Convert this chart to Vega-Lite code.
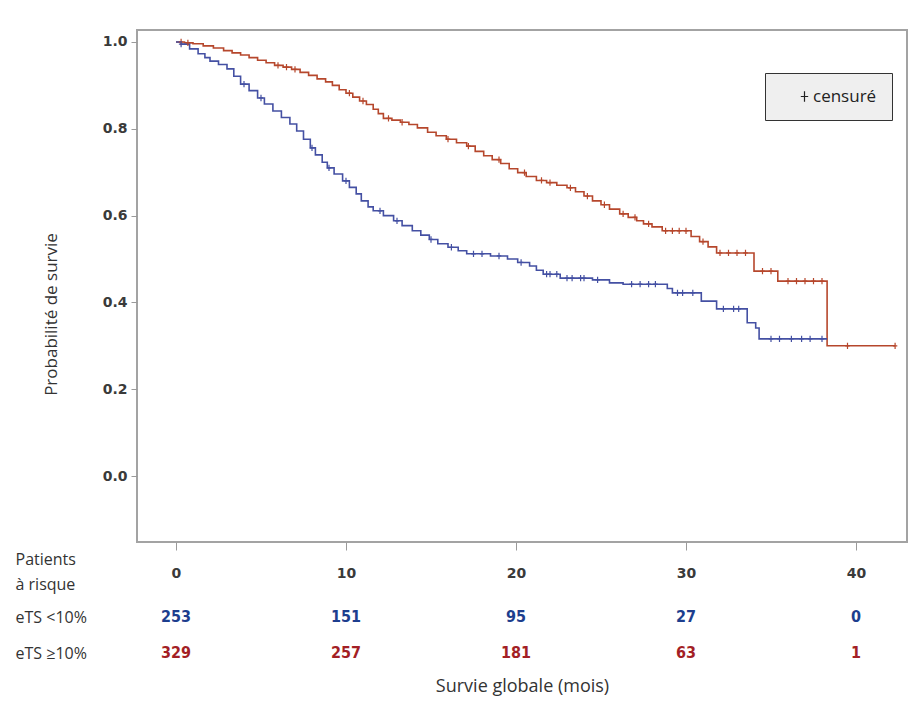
{
  "$schema": "https://vega.github.io/schema/vega-lite/v6.json",
  "padding": {"left": 15, "top": 29, "right": 3, "bottom": 5},
  "background": "#ffffff",
  "spacing": 57,
  "bounds": "flush",
  "resolve": {"scale": {"color": "independent", "x": "independent", "y": "independent"}},
  "datasets": {
    "curve": [
      {"g": "eTS ≥10%", "t": 0, "s": 1.0},
      {"g": "eTS ≥10%", "t": 0.5, "s": 0.998},
      {"g": "eTS ≥10%", "t": 1.0, "s": 0.996},
      {"g": "eTS ≥10%", "t": 1.6, "s": 0.991},
      {"g": "eTS ≥10%", "t": 2.2, "s": 0.986},
      {"g": "eTS ≥10%", "t": 2.8, "s": 0.980},
      {"g": "eTS ≥10%", "t": 3.3, "s": 0.975},
      {"g": "eTS ≥10%", "t": 3.8, "s": 0.970},
      {"g": "eTS ≥10%", "t": 4.3, "s": 0.964},
      {"g": "eTS ≥10%", "t": 4.8, "s": 0.958},
      {"g": "eTS ≥10%", "t": 5.3, "s": 0.952},
      {"g": "eTS ≥10%", "t": 5.8, "s": 0.946},
      {"g": "eTS ≥10%", "t": 6.3, "s": 0.942},
      {"g": "eTS ≥10%", "t": 6.8, "s": 0.937},
      {"g": "eTS ≥10%", "t": 7.3, "s": 0.930},
      {"g": "eTS ≥10%", "t": 7.8, "s": 0.923},
      {"g": "eTS ≥10%", "t": 8.3, "s": 0.915},
      {"g": "eTS ≥10%", "t": 8.8, "s": 0.908},
      {"g": "eTS ≥10%", "t": 9.2, "s": 0.900},
      {"g": "eTS ≥10%", "t": 9.6, "s": 0.890},
      {"g": "eTS ≥10%", "t": 10.0, "s": 0.882},
      {"g": "eTS ≥10%", "t": 10.4, "s": 0.873},
      {"g": "eTS ≥10%", "t": 10.8, "s": 0.864},
      {"g": "eTS ≥10%", "t": 11.2, "s": 0.856},
      {"g": "eTS ≥10%", "t": 11.6, "s": 0.845},
      {"g": "eTS ≥10%", "t": 11.9, "s": 0.835},
      {"g": "eTS ≥10%", "t": 12.2, "s": 0.824},
      {"g": "eTS ≥10%", "t": 12.7, "s": 0.820},
      {"g": "eTS ≥10%", "t": 13.2, "s": 0.815},
      {"g": "eTS ≥10%", "t": 13.7, "s": 0.810},
      {"g": "eTS ≥10%", "t": 14.2, "s": 0.802},
      {"g": "eTS ≥10%", "t": 14.8, "s": 0.792},
      {"g": "eTS ≥10%", "t": 15.3, "s": 0.784},
      {"g": "eTS ≥10%", "t": 15.9, "s": 0.776},
      {"g": "eTS ≥10%", "t": 16.5, "s": 0.768},
      {"g": "eTS ≥10%", "t": 17.1, "s": 0.760},
      {"g": "eTS ≥10%", "t": 17.6, "s": 0.748},
      {"g": "eTS ≥10%", "t": 18.1, "s": 0.738},
      {"g": "eTS ≥10%", "t": 18.6, "s": 0.729},
      {"g": "eTS ≥10%", "t": 19.1, "s": 0.720},
      {"g": "eTS ≥10%", "t": 19.6, "s": 0.708},
      {"g": "eTS ≥10%", "t": 20.1, "s": 0.699},
      {"g": "eTS ≥10%", "t": 20.6, "s": 0.690},
      {"g": "eTS ≥10%", "t": 21.2, "s": 0.681},
      {"g": "eTS ≥10%", "t": 21.8, "s": 0.676},
      {"g": "eTS ≥10%", "t": 22.4, "s": 0.670},
      {"g": "eTS ≥10%", "t": 23.0, "s": 0.664},
      {"g": "eTS ≥10%", "t": 23.5, "s": 0.655},
      {"g": "eTS ≥10%", "t": 24.0, "s": 0.645},
      {"g": "eTS ≥10%", "t": 24.5, "s": 0.634},
      {"g": "eTS ≥10%", "t": 25.0, "s": 0.625},
      {"g": "eTS ≥10%", "t": 25.5, "s": 0.615},
      {"g": "eTS ≥10%", "t": 26.1, "s": 0.604},
      {"g": "eTS ≥10%", "t": 26.6, "s": 0.596},
      {"g": "eTS ≥10%", "t": 27.1, "s": 0.588},
      {"g": "eTS ≥10%", "t": 27.5, "s": 0.581},
      {"g": "eTS ≥10%", "t": 28.0, "s": 0.574},
      {"g": "eTS ≥10%", "t": 28.6, "s": 0.565},
      {"g": "eTS ≥10%", "t": 30.3, "s": 0.552},
      {"g": "eTS ≥10%", "t": 30.8, "s": 0.540},
      {"g": "eTS ≥10%", "t": 31.3, "s": 0.528},
      {"g": "eTS ≥10%", "t": 31.8, "s": 0.514},
      {"g": "eTS ≥10%", "t": 34.0, "s": 0.472},
      {"g": "eTS ≥10%", "t": 35.4, "s": 0.449},
      {"g": "eTS ≥10%", "t": 38.3, "s": 0.300},
      {"g": "eTS ≥10%", "t": 42.3, "s": 0.300},
      {"g": "eTS <10%", "t": 0, "s": 1.0},
      {"g": "eTS <10%", "t": 0.3, "s": 0.995},
      {"g": "eTS <10%", "t": 0.8, "s": 0.984},
      {"g": "eTS <10%", "t": 1.3, "s": 0.973},
      {"g": "eTS <10%", "t": 1.7, "s": 0.964},
      {"g": "eTS <10%", "t": 2.0, "s": 0.956},
      {"g": "eTS <10%", "t": 2.5, "s": 0.948},
      {"g": "eTS <10%", "t": 3.0, "s": 0.938},
      {"g": "eTS <10%", "t": 3.4, "s": 0.921},
      {"g": "eTS <10%", "t": 3.8, "s": 0.903},
      {"g": "eTS <10%", "t": 4.3, "s": 0.888},
      {"g": "eTS <10%", "t": 4.8, "s": 0.871},
      {"g": "eTS <10%", "t": 5.2, "s": 0.857},
      {"g": "eTS <10%", "t": 5.7, "s": 0.841},
      {"g": "eTS <10%", "t": 6.2, "s": 0.826},
      {"g": "eTS <10%", "t": 6.7, "s": 0.811},
      {"g": "eTS <10%", "t": 7.1, "s": 0.795},
      {"g": "eTS <10%", "t": 7.5, "s": 0.776},
      {"g": "eTS <10%", "t": 7.9, "s": 0.756},
      {"g": "eTS <10%", "t": 8.2, "s": 0.740},
      {"g": "eTS <10%", "t": 8.6, "s": 0.723},
      {"g": "eTS <10%", "t": 8.9, "s": 0.710},
      {"g": "eTS <10%", "t": 9.3, "s": 0.696},
      {"g": "eTS <10%", "t": 9.8, "s": 0.680},
      {"g": "eTS <10%", "t": 10.2, "s": 0.665},
      {"g": "eTS <10%", "t": 10.6, "s": 0.650},
      {"g": "eTS <10%", "t": 10.9, "s": 0.634},
      {"g": "eTS <10%", "t": 11.3, "s": 0.620},
      {"g": "eTS <10%", "t": 11.6, "s": 0.611},
      {"g": "eTS <10%", "t": 12.2, "s": 0.600},
      {"g": "eTS <10%", "t": 12.8, "s": 0.588},
      {"g": "eTS <10%", "t": 13.3, "s": 0.577},
      {"g": "eTS <10%", "t": 13.9, "s": 0.565},
      {"g": "eTS <10%", "t": 14.4, "s": 0.555},
      {"g": "eTS <10%", "t": 14.9, "s": 0.545},
      {"g": "eTS <10%", "t": 15.4, "s": 0.535},
      {"g": "eTS <10%", "t": 16.0, "s": 0.527},
      {"g": "eTS <10%", "t": 16.6, "s": 0.519},
      {"g": "eTS <10%", "t": 17.1, "s": 0.512},
      {"g": "eTS <10%", "t": 18.5, "s": 0.507},
      {"g": "eTS <10%", "t": 19.5, "s": 0.500},
      {"g": "eTS <10%", "t": 20.1, "s": 0.492},
      {"g": "eTS <10%", "t": 20.8, "s": 0.484},
      {"g": "eTS <10%", "t": 21.2, "s": 0.474},
      {"g": "eTS <10%", "t": 21.6, "s": 0.465},
      {"g": "eTS <10%", "t": 22.6, "s": 0.456},
      {"g": "eTS <10%", "t": 24.5, "s": 0.452},
      {"g": "eTS <10%", "t": 25.5, "s": 0.445},
      {"g": "eTS <10%", "t": 26.3, "s": 0.442},
      {"g": "eTS <10%", "t": 28.9, "s": 0.432},
      {"g": "eTS <10%", "t": 29.2, "s": 0.422},
      {"g": "eTS <10%", "t": 30.9, "s": 0.403},
      {"g": "eTS <10%", "t": 31.8, "s": 0.385},
      {"g": "eTS <10%", "t": 33.6, "s": 0.353},
      {"g": "eTS <10%", "t": 34.1, "s": 0.341},
      {"g": "eTS <10%", "t": 34.3, "s": 0.316},
      {"g": "eTS <10%", "t": 38.3, "s": 0.316}
    ],
    "censor": [
      {"g": "eTS ≥10%", "t": 0.3, "s": 1.0},
      {"g": "eTS ≥10%", "t": 0.7, "s": 0.998},
      {"g": "eTS ≥10%", "t": 6.0, "s": 0.946},
      {"g": "eTS ≥10%", "t": 6.5, "s": 0.942},
      {"g": "eTS ≥10%", "t": 7.0, "s": 0.937},
      {"g": "eTS ≥10%", "t": 10.2, "s": 0.882},
      {"g": "eTS ≥10%", "t": 11.0, "s": 0.864},
      {"g": "eTS ≥10%", "t": 12.5, "s": 0.824},
      {"g": "eTS ≥10%", "t": 13.3, "s": 0.815},
      {"g": "eTS ≥10%", "t": 16.0, "s": 0.776},
      {"g": "eTS ≥10%", "t": 17.2, "s": 0.760},
      {"g": "eTS ≥10%", "t": 19.0, "s": 0.729},
      {"g": "eTS ≥10%", "t": 20.5, "s": 0.699},
      {"g": "eTS ≥10%", "t": 21.5, "s": 0.681},
      {"g": "eTS ≥10%", "t": 22.0, "s": 0.676},
      {"g": "eTS ≥10%", "t": 23.2, "s": 0.664},
      {"g": "eTS ≥10%", "t": 24.2, "s": 0.645},
      {"g": "eTS ≥10%", "t": 25.2, "s": 0.625},
      {"g": "eTS ≥10%", "t": 26.3, "s": 0.604},
      {"g": "eTS ≥10%", "t": 27.0, "s": 0.596},
      {"g": "eTS ≥10%", "t": 27.8, "s": 0.581},
      {"g": "eTS ≥10%", "t": 28.8, "s": 0.565},
      {"g": "eTS ≥10%", "t": 29.2, "s": 0.565},
      {"g": "eTS ≥10%", "t": 29.6, "s": 0.565},
      {"g": "eTS ≥10%", "t": 30.0, "s": 0.565},
      {"g": "eTS ≥10%", "t": 31.0, "s": 0.540},
      {"g": "eTS ≥10%", "t": 32.0, "s": 0.514},
      {"g": "eTS ≥10%", "t": 32.5, "s": 0.514},
      {"g": "eTS ≥10%", "t": 33.0, "s": 0.514},
      {"g": "eTS ≥10%", "t": 33.5, "s": 0.514},
      {"g": "eTS ≥10%", "t": 34.5, "s": 0.472},
      {"g": "eTS ≥10%", "t": 35.0, "s": 0.472},
      {"g": "eTS ≥10%", "t": 36.0, "s": 0.449},
      {"g": "eTS ≥10%", "t": 36.5, "s": 0.449},
      {"g": "eTS ≥10%", "t": 37.0, "s": 0.449},
      {"g": "eTS ≥10%", "t": 37.5, "s": 0.449},
      {"g": "eTS ≥10%", "t": 38.0, "s": 0.449},
      {"g": "eTS ≥10%", "t": 39.5, "s": 0.300},
      {"g": "eTS ≥10%", "t": 42.3, "s": 0.300},
      {"g": "eTS <10%", "t": 0.3, "s": 0.995},
      {"g": "eTS <10%", "t": 4.0, "s": 0.903},
      {"g": "eTS <10%", "t": 5.0, "s": 0.871},
      {"g": "eTS <10%", "t": 8.0, "s": 0.756},
      {"g": "eTS <10%", "t": 9.0, "s": 0.710},
      {"g": "eTS <10%", "t": 10.0, "s": 0.680},
      {"g": "eTS <10%", "t": 12.0, "s": 0.611},
      {"g": "eTS <10%", "t": 13.0, "s": 0.588},
      {"g": "eTS <10%", "t": 15.0, "s": 0.545},
      {"g": "eTS <10%", "t": 16.2, "s": 0.527},
      {"g": "eTS <10%", "t": 17.5, "s": 0.512},
      {"g": "eTS <10%", "t": 18.0, "s": 0.512},
      {"g": "eTS <10%", "t": 19.0, "s": 0.507},
      {"g": "eTS <10%", "t": 20.3, "s": 0.492},
      {"g": "eTS <10%", "t": 21.8, "s": 0.465},
      {"g": "eTS <10%", "t": 22.0, "s": 0.465},
      {"g": "eTS <10%", "t": 22.4, "s": 0.465},
      {"g": "eTS <10%", "t": 23.0, "s": 0.456},
      {"g": "eTS <10%", "t": 23.3, "s": 0.456},
      {"g": "eTS <10%", "t": 23.8, "s": 0.456},
      {"g": "eTS <10%", "t": 24.0, "s": 0.456},
      {"g": "eTS <10%", "t": 24.8, "s": 0.452},
      {"g": "eTS <10%", "t": 26.8, "s": 0.442},
      {"g": "eTS <10%", "t": 27.3, "s": 0.442},
      {"g": "eTS <10%", "t": 27.8, "s": 0.442},
      {"g": "eTS <10%", "t": 28.2, "s": 0.442},
      {"g": "eTS <10%", "t": 29.5, "s": 0.422},
      {"g": "eTS <10%", "t": 29.8, "s": 0.422},
      {"g": "eTS <10%", "t": 30.4, "s": 0.422},
      {"g": "eTS <10%", "t": 32.2, "s": 0.385},
      {"g": "eTS <10%", "t": 32.8, "s": 0.385},
      {"g": "eTS <10%", "t": 33.1, "s": 0.385},
      {"g": "eTS <10%", "t": 35.0, "s": 0.316},
      {"g": "eTS <10%", "t": 35.5, "s": 0.316},
      {"g": "eTS <10%", "t": 36.2, "s": 0.316},
      {"g": "eTS <10%", "t": 36.8, "s": 0.316},
      {"g": "eTS <10%", "t": 37.3, "s": 0.316},
      {"g": "eTS <10%", "t": 38.0, "s": 0.316}
    ],
    "risk": [
      {"g": "eTS <10%", "t": 0, "n": 253},
      {"g": "eTS <10%", "t": 10, "n": 151},
      {"g": "eTS <10%", "t": 20, "n": 95},
      {"g": "eTS <10%", "t": 30, "n": 27},
      {"g": "eTS <10%", "t": 40, "n": 0},
      {"g": "eTS ≥10%", "t": 0, "n": 329},
      {"g": "eTS ≥10%", "t": 10, "n": 257},
      {"g": "eTS ≥10%", "t": 20, "n": 181},
      {"g": "eTS ≥10%", "t": 30, "n": 63},
      {"g": "eTS ≥10%", "t": 40, "n": 1}
    ]
  },
  "vconcat": [
    {
      "width": 770,
      "height": 512,
      "view": {"stroke": "#a3a3a3", "strokeWidth": 2},
      "encoding": {
        "x": {
          "field": "t", "type": "quantitative",
          "scale": {"domain": [-2.294, 43.0], "nice": false, "zero": false},
          "axis": {
            "values": [0, 10, 20, 30, 40], "title": null, "grid": false, "domain": false,
            "tickSize": 8, "tickColor": "#9a9a9a", "labelPadding": 16,
            "labelFont": "DejaVu Sans", "labelFontSize": 14, "labelFontWeight": "bold", "labelColor": "#3a3a3a"
          }
        },
        "y": {
          "field": "s", "type": "quantitative",
          "scale": {"domain": [-0.152, 1.0276], "nice": false, "zero": false},
          "axis": {
            "values": [0, 0.2, 0.4, 0.6, 0.8, 1.0], "format": ".1f", "grid": false, "domain": false,
            "tickSize": 6, "tickColor": "#9a9a9a", "labelPadding": 4,
            "labelFont": "DejaVu Sans", "labelFontSize": 14, "labelFontWeight": "bold", "labelColor": "#3a3a3a",
            "title": "Probabilité de survie", "titleFont": "Open Sans", "titleFontSize": 17,
            "titleFontWeight": "normal", "titleColor": "#333333", "titlePadding": 42, "titleY": 284
          }
        }
      },
      "layer": [
        {
          "data": {"name": "curve"},
          "mark": {"type": "line", "interpolate": "step-after", "strokeWidth": 1.6},
          "encoding": {
            "color": {
              "field": "g", "type": "nominal",
              "scale": {"domain": ["eTS <10%", "eTS ≥10%"], "range": ["#4450a3", "#b6472c"]},
              "legend": null
            }
          }
        },
        {
          "data": {"name": "censor"},
          "mark": {"type": "point", "filled": false, "strokeWidth": 1.2, "size": 40, "opacity": 1},
          "encoding": {
            "color": {
              "field": "g", "type": "nominal",
              "scale": {"domain": ["eTS <10%", "eTS ≥10%"], "range": ["#4450a3", "#b6472c"]},
              "legend": null
            },
            "shape": {
              "datum": "censuré",
              "scale": {"domain": ["censuré"], "range": ["M-0.7,0H0.7M0,-1V1"]},
              "legend": {
                "title": null, "orient": "none", "legendX": 628, "legendY": 43,
                "strokeColor": "#333333", "fillColor": "#efefef", "padding": 15,
                "symbolStrokeColor": "#222222", "symbolFillColor": "transparent",
                "symbolSize": 110, "symbolStrokeWidth": 1.2, "symbolOffset": 16,
                "labelFont": "Open Sans", "labelFontSize": 17, "labelColor": "#222222", "labelOffset": 0
              }
            }
          }
        }
      ]
    },
    {
      "width": 770,
      "height": 72,
      "view": {"stroke": null},
      "data": {"name": "risk"},
      "mark": {"type": "text", "font": "DejaVu Sans Condensed", "fontSize": 16, "fontWeight": "bold", "baseline": "middle"},
      "encoding": {
        "x": {
          "field": "t", "type": "quantitative",
          "scale": {"domain": [-2.294, 43.0], "nice": false, "zero": false},
          "axis": {
            "labels": false, "ticks": false, "domain": false, "grid": false,
            "title": "Survie globale (mois)", "titleFont": "Open Sans", "titleFontSize": 18,
            "titleFontWeight": "normal", "titleColor": "#333333", "titlePadding": 6
          }
        },
        "y": {
          "field": "g", "type": "nominal",
          "scale": {"type": "point", "domain": ["eTS <10%", "eTS ≥10%"], "padding": 0.5},
          "axis": {
            "ticks": false, "domain": false, "grid": false, "labelAlign": "left", "labelPadding": 122,
            "labelFont": "Open Sans", "labelFontSize": 16, "labelColor": "#333333", "labelBaseline": "middle",
            "title": ["Patients", "à risque"], "titleAngle": 0, "titleAlign": "left", "titleBaseline": "alphabetic",
            "titleX": -122, "titleY": -35, "titleLineHeight": 25,
            "titleFont": "Open Sans", "titleFontSize": 16, "titleFontWeight": "normal", "titleColor": "#333333"
          }
        },
        "text": {"field": "n", "type": "quantitative"},
        "color": {
          "field": "g", "type": "nominal",
          "scale": {"domain": ["eTS <10%", "eTS ≥10%"], "range": ["#1d3e8e", "#a31f25"]},
          "legend": null
        }
      }
    }
  ]
}
